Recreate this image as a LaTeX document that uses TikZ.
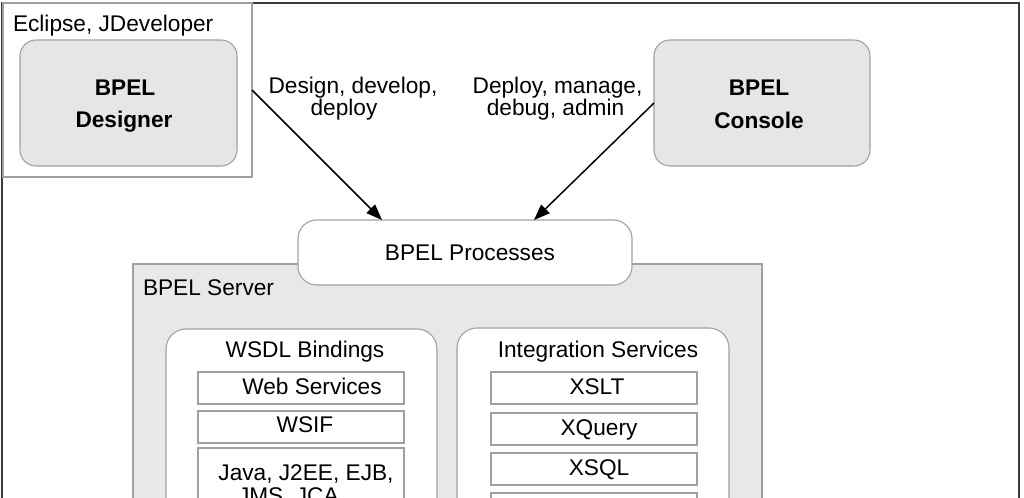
\documentclass[tikz,border=0pt]{standalone}
\usepackage{fontspec}
\setmainfont{Liberation Sans}
\usetikzlibrary{calc,arrows.meta}
\definecolor{boxgray}{HTML}{E6E6E6}
\definecolor{srvgray}{HTML}{E8E8E8}
\definecolor{edgegray}{HTML}{A0A0A0}
\definecolor{framegray}{HTML}{3A3A3A}
\tikzset{
  shape box/.style={rectangle,draw=edgegray,line width=0.8pt,inner sep=0pt,outer sep=0pt},
  gbox/.style={shape box,fill=boxgray,rounded corners=12pt},
  wbox/.style={shape box,fill=white,rounded corners=15pt},
  cell/.style={shape box,fill=white},
  txt/.style={inner sep=0pt,outer sep=0pt,anchor=base,font=\fontsize{17}{20}\selectfont},
  btxt/.style={txt,font=\fontsize{17}{20}\selectfont\bfseries},
  arr/.style={line width=1.1pt,-{Triangle[length=12pt,width=9pt]}}
}
\begin{document}
\begin{tikzpicture}[x=0.75pt,y=-0.75pt]
\useasboundingbox (0,0) rectangle (1024,497);
\clip (0,0) rectangle (1024,497);
\fill[white] (0,0) rectangle (1024,497);
% outer frame
\node[shape box,draw=framegray,line width=1.5pt,minimum width=762.4pt,minimum height=418.1pt] (frame) at (510.75,281.25) {};
% Eclipse box
\node[shape box,minimum width=186.75pt,minimum height=130.5pt] (ecl) at (127.5,90) {};
\node[gbox,minimum width=162.75pt,minimum height=94.5pt] (designer) at (128.5,103) {};
\node[gbox,minimum width=162pt,minimum height=94.5pt] (console) at (762,103) {};
% server
\node[shape box,fill=srvgray,minimum width=471.75pt,minimum height=222pt] (server) at (447.5,412) {};
\node[wbox,rounded corners=14pt,minimum width=250.5pt,minimum height=48.75pt] (proc) at (465,252.5) {};
\node[wbox,minimum width=203.25pt,minimum height=173.25pt] (wsdl) at (301.5,444.5) {};
\node[wbox,minimum width=204pt,minimum height=174pt] (integ) at (593,444) {};
% cells
\node[cell,minimum width=154.5pt,minimum height=24pt] (ws) at (301,388) {};
\node[cell,minimum width=154.5pt,minimum height=24pt] (wsif) at (301,427) {};
\node[cell,minimum width=154.5pt,minimum height=84pt] (java) at (301,504) {};
\node[cell,minimum width=154.5pt,minimum height=24pt] (xslt) at (594,388) {};
\node[cell,minimum width=154.5pt,minimum height=24pt] (xquery) at (594,429) {};
\node[cell,minimum width=154.5pt,minimum height=24pt] (xsql) at (594,469) {};
\node[cell,minimum width=154.5pt,minimum height=50.25pt] (xmore) at (594,526.5) {};
% texts
\node[txt,anchor=base west] (tecl) at (13,31) {Eclipse, JDeveloper};
\node[btxt] (tdes1) at (125,95) {BPEL};
\node[btxt] (tdes2) at (124,127) {Designer};
\node[btxt] (tcon1) at (759,95) {BPEL};
\node[btxt] (tcon2) at (759,128) {Console};
\node[txt] (tl1a) at (353,93) {Design, develop,};
\node[txt] (tl1b) at (344,115) {deploy};
\node[txt] (tl2a) at (557.5,93) {Deploy, manage,};
\node[txt] (tl2b) at (555.5,115) {debug, admin};
\node[txt] (tproc) at (470,260) {BPEL Processes};
\node[txt,anchor=base west] (tsrv) at (143,295) {BPEL Server};
\node[txt] (twsdl) at (305,357) {WSDL Bindings};
\node[txt] (tws) at (312,394) {Web Services};
\node[txt] (twsif) at (305,432) {WSIF};
\node[txt] (tjava) at (306,480) {Java, J2EE, EJB,};
\node[txt,anchor=base west] (tjava2) at (238,503) {JMS, JCA};
\node[txt] (tint) at (598,357) {Integration Services};
\node[txt] (txslt) at (597,394) {XSLT};
\node[txt] (txq) at (599,435) {XQuery};
\node[txt] (txsql) at (599,475) {XSQL};
% arrows
\draw[arr] (ecl.east) -- ($(proc.north)+(-83,0)$);
\draw[arr] (console.west) -- ($(proc.north)+(69,0)$);
\end{tikzpicture}
\end{document}
